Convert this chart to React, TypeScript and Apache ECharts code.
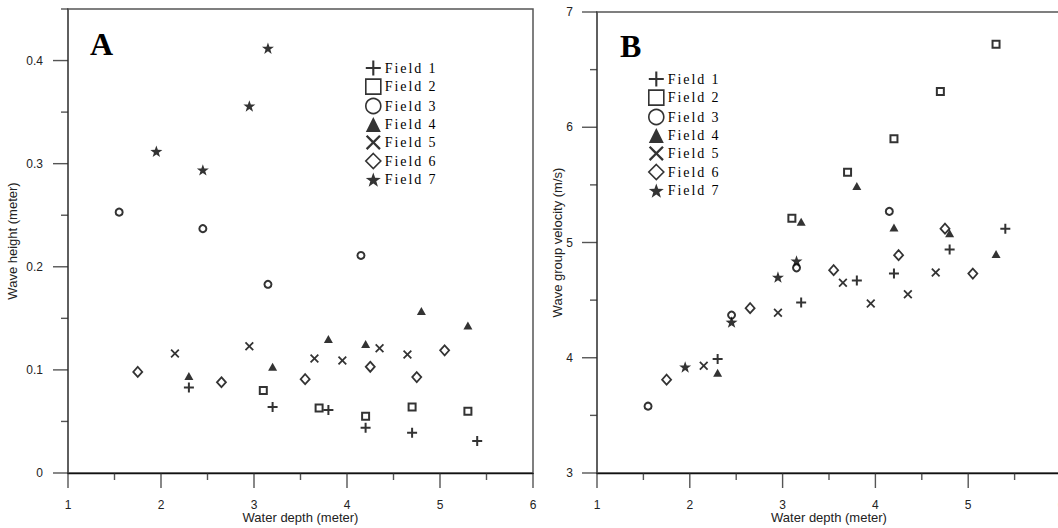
import React, { useEffect, useRef } from "react";
import * as echarts from "echarts";

// ---------- data ----------
const fieldNames = ["Field 1", "Field 2", "Field 3", "Field 4", "Field 5", "Field 6", "Field 7"];

// Panel A: wave height (meter) vs water depth (meter)
const heightDepthF1 = [2.3, 3.2, 3.8, 4.2, 4.7, 5.4];
const heightF1 = [0.083, 0.064, 0.061, 0.044, 0.039, 0.031];
const heightDepthF2 = [3.1, 3.7, 4.2, 4.7, 5.3];
const heightF2 = [0.08, 0.063, 0.055, 0.064, 0.06];
const heightDepthF3 = [1.55, 2.45, 3.15, 4.15];
const heightF3 = [0.253, 0.237, 0.183, 0.211];
const heightDepthF4 = [2.3, 3.2, 3.8, 4.2, 4.8, 5.3];
const heightF4 = [0.094, 0.103, 0.13, 0.125, 0.157, 0.143];
const heightDepthF5 = [2.15, 2.95, 3.65, 3.95, 4.35, 4.65];
const heightF5 = [0.116, 0.123, 0.111, 0.109, 0.121, 0.115];
const heightDepthF6 = [1.75, 2.65, 3.55, 4.25, 4.75, 5.05];
const heightF6 = [0.098, 0.088, 0.091, 0.103, 0.093, 0.119];
const heightDepthF7 = [1.95, 2.45, 2.95, 3.15];
const heightF7 = [0.312, 0.294, 0.356, 0.412];

// Panel B: wave group velocity (m/s) vs water depth (meter)
const velDepthF1 = [2.3, 3.2, 3.8, 4.2, 4.8, 5.4];
const velF1 = [3.99, 4.48, 4.67, 4.73, 4.94, 5.12];
const velDepthF2 = [3.1, 3.7, 4.2, 4.7, 5.3];
const velF2 = [5.21, 5.61, 5.9, 6.31, 6.72];
const velDepthF3 = [1.55, 2.45, 3.15, 4.15];
const velF3 = [3.58, 4.37, 4.78, 5.27];
const velDepthF4 = [2.3, 3.2, 3.8, 4.2, 4.8, 5.3];
const velF4 = [3.87, 5.18, 5.49, 5.13, 5.08, 4.9];
const velDepthF5 = [2.15, 2.95, 3.65, 3.95, 4.35, 4.65];
const velF5 = [3.93, 4.39, 4.65, 4.47, 4.55, 4.74];
const velDepthF6 = [1.75, 2.65, 3.55, 4.25, 4.75, 5.05];
const velF6 = [3.81, 4.43, 4.76, 4.89, 5.12, 4.73];
const velDepthF7 = [1.95, 2.45, 2.95, 3.15];
const velF7 = [3.92, 4.31, 4.7, 4.84];

// tick values
const depthTicks = [1, 2, 3, 4, 5, 6];
const depthMinorTicks = [1.5, 2.5, 3.5, 4.5, 5.5];
const heightTicks = [0, 0.1, 0.2, 0.3, 0.4];
const heightMinorTicks = [0.05, 0.15, 0.25, 0.35, 0.45];
const velocityTicks = [3, 4, 5, 6, 7];
const velocityMinorTicks = [3.5, 4.5, 5.5, 6.5];

const panelLabels = ["A", "B"];
const xAxisTitle = "Water depth (meter)";
const yAxisTitleA = "Wave height (meter)";
const yAxisTitleB = "Wave group velocity (m/s)";

// ---------- symbols ----------
const PLUS = "path://M4,0H6V4H10V6H6V10H4V6H0V4H4Z";
const PLUS_THIN = "path://M4.3,0H5.7V4.3H10V5.7H5.7V10H4.3V5.7H0V4.3H4.3Z";
const CROSS = "path://M0,1.4L1.4,0L5,3.6L8.6,0L10,1.4L6.4,5L10,8.6L8.6,10L5,6.4L1.4,10L0,8.6L3.6,5Z";
const CROSS_THIN = "path://M0,1.1L1.1,0L5,3.9L8.9,0L10,1.1L6.1,5L10,8.9L8.9,10L5,6.1L1.1,10L0,8.9L3.9,5Z";
const STAR =
  "path://M50,0L61.76,33.82L97.55,34.55L69.02,56.18L79.39,90.45L50,70L20.61,90.45L30.98,56.18L2.45,34.55L38.24,33.82Z";

const zip = (xs: number[], ys: number[]) => xs.map((x, i) => [x, ys[i]]);

const styles: any[] = [
  { symbol: PLUS, symbolSize: 10, itemStyle: { color: "#000" } },
  { symbol: "rect", symbolSize: 7, itemStyle: { color: "#fff", borderColor: "#000", borderWidth: 2 } },
  { symbol: "circle", symbolSize: 7, itemStyle: { color: "#fff", borderColor: "#000", borderWidth: 2 } },
  { symbol: "triangle", symbolSize: [9, 8], itemStyle: { color: "#000" } },
  { symbol: CROSS, symbolSize: 9, itemStyle: { color: "#000" } },
  { symbol: "diamond", symbolSize: [9, 10], itemStyle: { color: "#fff", borderColor: "#000", borderWidth: 1.8 } },
  { symbol: STAR, symbolSize: 12, symbolKeepAspect: true, itemStyle: { color: "#000" } },
];

const legendIcons: any[] = [
  { icon: PLUS_THIN, itemStyle: { color: "#000", borderWidth: 0 } },
  { icon: "rect", itemStyle: { color: "#fff", borderColor: "#000", borderWidth: 1.6 } },
  { icon: "circle", itemStyle: { color: "#fff", borderColor: "#000", borderWidth: 1.6 } },
  { icon: "triangle", itemStyle: { color: "#000", borderWidth: 0 } },
  { icon: CROSS_THIN, itemStyle: { color: "#000", borderWidth: 0 } },
  { icon: "diamond", itemStyle: { color: "#fff", borderColor: "#000", borderWidth: 1.6 } },
  { icon: STAR, itemStyle: { color: "#000", borderWidth: 0 } },
];

const heightData = [
  zip(heightDepthF1, heightF1),
  zip(heightDepthF2, heightF2),
  zip(heightDepthF3, heightF3),
  zip(heightDepthF4, heightF4),
  zip(heightDepthF5, heightF5),
  zip(heightDepthF6, heightF6),
  zip(heightDepthF7, heightF7),
];
const velData = [
  zip(velDepthF1, velF1),
  zip(velDepthF2, velF2),
  zip(velDepthF3, velF3),
  zip(velDepthF4, velF4),
  zip(velDepthF5, velF5),
  zip(velDepthF6, velF6),
  zip(velDepthF7, velF7),
];

const SANS = "Liberation Sans";
const SERIF = "Liberation Serif";
const TICK_COLOR = "#2a2a2a";
const MAJOR = 15;
const MINOR = 7;

const A = { left: 68, top: 9, width: 465, height: 464 };
const B = { left: 597, top: 12, width: 464, height: 461 };
const gridBase = { outerBoundsMode: "none", containLabel: false };

function mainXAxis(gridIndex: number) {
  return {
    gridIndex,
    type: "value",
    min: 1,
    max: 6,
    interval: 1,
    position: "bottom",
    name: xAxisTitle,
    nameLocation: "middle",
    nameGap: 38,
    nameMoveOverlap: false,
    nameTextStyle: { fontFamily: SANS, fontSize: 13, color: "#222" },
    axisLine: { show: true, lineStyle: { color: "#111", width: 1.4 } },
    axisTick: { show: false },
    axisLabel: { margin: 26, fontFamily: SANS, fontSize: 12, color: "#222" },
    splitLine: { show: false },
  };
}

// outward tick marks, placed through the axes' own scales
function xTickSeries(axisIndex: number, values: number[], yBase: number, len: number) {
  return {
    type: "scatter",
    xAxisIndex: axisIndex,
    yAxisIndex: axisIndex,
    data: values.map((v) => [v, yBase]),
    symbol: "rect",
    symbolSize: [1.4, len],
    symbolOffset: [0, len / 2],
    itemStyle: { color: TICK_COLOR },
    clip: false,
    silent: true,
    z: 20,
    emphasis: { disabled: true },
  };
}
function yTickSeries(axisIndex: number, values: number[], xBase: number, len: number) {
  return {
    type: "scatter",
    xAxisIndex: axisIndex,
    yAxisIndex: axisIndex,
    data: values.map((v) => [xBase, v]),
    symbol: "rect",
    symbolSize: [len, 1.4],
    symbolOffset: [-len / 2, 0],
    itemStyle: { color: TICK_COLOR },
    clip: false,
    silent: true,
    z: 20,
    emphasis: { disabled: true },
  };
}

const legendFor = (left: number, top: number) => ({
  orient: "vertical",
  left,
  top,
  itemWidth: 15,
  itemHeight: 15,
  itemGap: 2.8,
  padding: 0,
  selectedMode: false,
  textStyle: { fontFamily: SERIF, fontSize: 14, color: "#000", lineHeight: 15, padding: [0, 0, 0, -1] },
  data: fieldNames.map((name, i) => ({ name, ...legendIcons[i] })),
});

export default function App() {
  const ref = useRef<HTMLDivElement>(null);

  useEffect(() => {
    if (!ref.current) return;
    const chart = echarts.init(ref.current, undefined, { renderer: "svg" });

    const series: any[] = [
      xTickSeries(0, depthTicks, 0, MAJOR),
      xTickSeries(0, depthMinorTicks, 0, MINOR),
      yTickSeries(0, heightTicks, 1, MAJOR),
      yTickSeries(0, heightMinorTicks, 1, MINOR),
      xTickSeries(1, depthTicks, 3, MAJOR),
      xTickSeries(1, depthMinorTicks, 3, MINOR),
      yTickSeries(1, velocityTicks, 1, MAJOR),
      yTickSeries(1, velocityMinorTicks, 1, MINOR),
    ];
    fieldNames.forEach((name, i) => {
      series.push({ type: "scatter", name, xAxisIndex: 0, yAxisIndex: 0, data: heightData[i], ...styles[i], z: 3 });
      series.push({ type: "scatter", name, xAxisIndex: 1, yAxisIndex: 1, data: velData[i], ...styles[i], z: 3 });
    });

    const option: any = {
      animation: false,
      backgroundColor: "#fff",
      grid: [
        { ...A, ...gridBase, show: true, borderColor: "#555", borderWidth: 1.5 },
        { ...B, ...gridBase, show: true, borderColor: "#555", borderWidth: 1.5 },
      ],
      xAxis: [mainXAxis(0), mainXAxis(1)],
      yAxis: [
        {
          gridIndex: 0,
          type: "value",
          min: 0,
          max: 0.45,
          interval: 0.05,
          position: "left",
          name: yAxisTitleA,
          nameLocation: "middle",
          nameGap: 49,
          nameMoveOverlap: false,
          nameTextStyle: { fontFamily: SANS, fontSize: 13, color: "#222" },
          axisLine: { show: true, lineStyle: { color: "#555", width: 1.5 } },
          axisTick: { show: false },
          axisLabel: { margin: 25, customValues: heightTicks, fontFamily: SANS, fontSize: 12, color: "#222" },
          splitLine: { show: false },
        },
        {
          gridIndex: 1,
          type: "value",
          min: 3,
          max: 7,
          interval: 1,
          position: "left",
          name: yAxisTitleB,
          nameLocation: "middle",
          nameGap: 33,
          nameMoveOverlap: false,
          nameTextStyle: { fontFamily: SANS, fontSize: 13, color: "#222" },
          axisLine: { show: true, lineStyle: { color: "#555", width: 1.5 } },
          axisTick: { show: false },
          axisLabel: { margin: 24, fontFamily: SANS, fontSize: 12, color: "#222" },
          splitLine: { show: false },
        },
      ],
      legend: [legendFor(365, 60.5), legendFor(648, 71.5)],
      graphic: [
        {
          type: "text",
          x: 90,
          y: 43.5,
          style: { text: panelLabels[0], font: `bold 32px ${SERIF}`, fill: "#000", verticalAlign: "middle", align: "left" },
        },
        {
          type: "text",
          x: 620,
          y: 46,
          style: { text: panelLabels[1], font: `bold 32px ${SERIF}`, fill: "#000", verticalAlign: "middle", align: "left" },
        },
      ],
      series,
    };

    const applySpacing = () => {
      const dom = ref.current;
      if (!dom) return;
      dom.querySelectorAll("text").forEach((t) => {
        if (/^Field \d$/.test(t.textContent || "")) t.setAttribute("letter-spacing", "1.9");
      });
    };

    chart.on("finished", applySpacing);
    chart.setOption(option);
    applySpacing();
    const timer = setTimeout(applySpacing, 50);

    return () => {
      clearTimeout(timer);
      chart.dispose();
    };
  }, []);

  return (
    <div
      ref={ref}
      style={{ position: "fixed", left: 0, top: 0, width: 1058, height: 528, background: "#fff" }}
    />
  );
}
